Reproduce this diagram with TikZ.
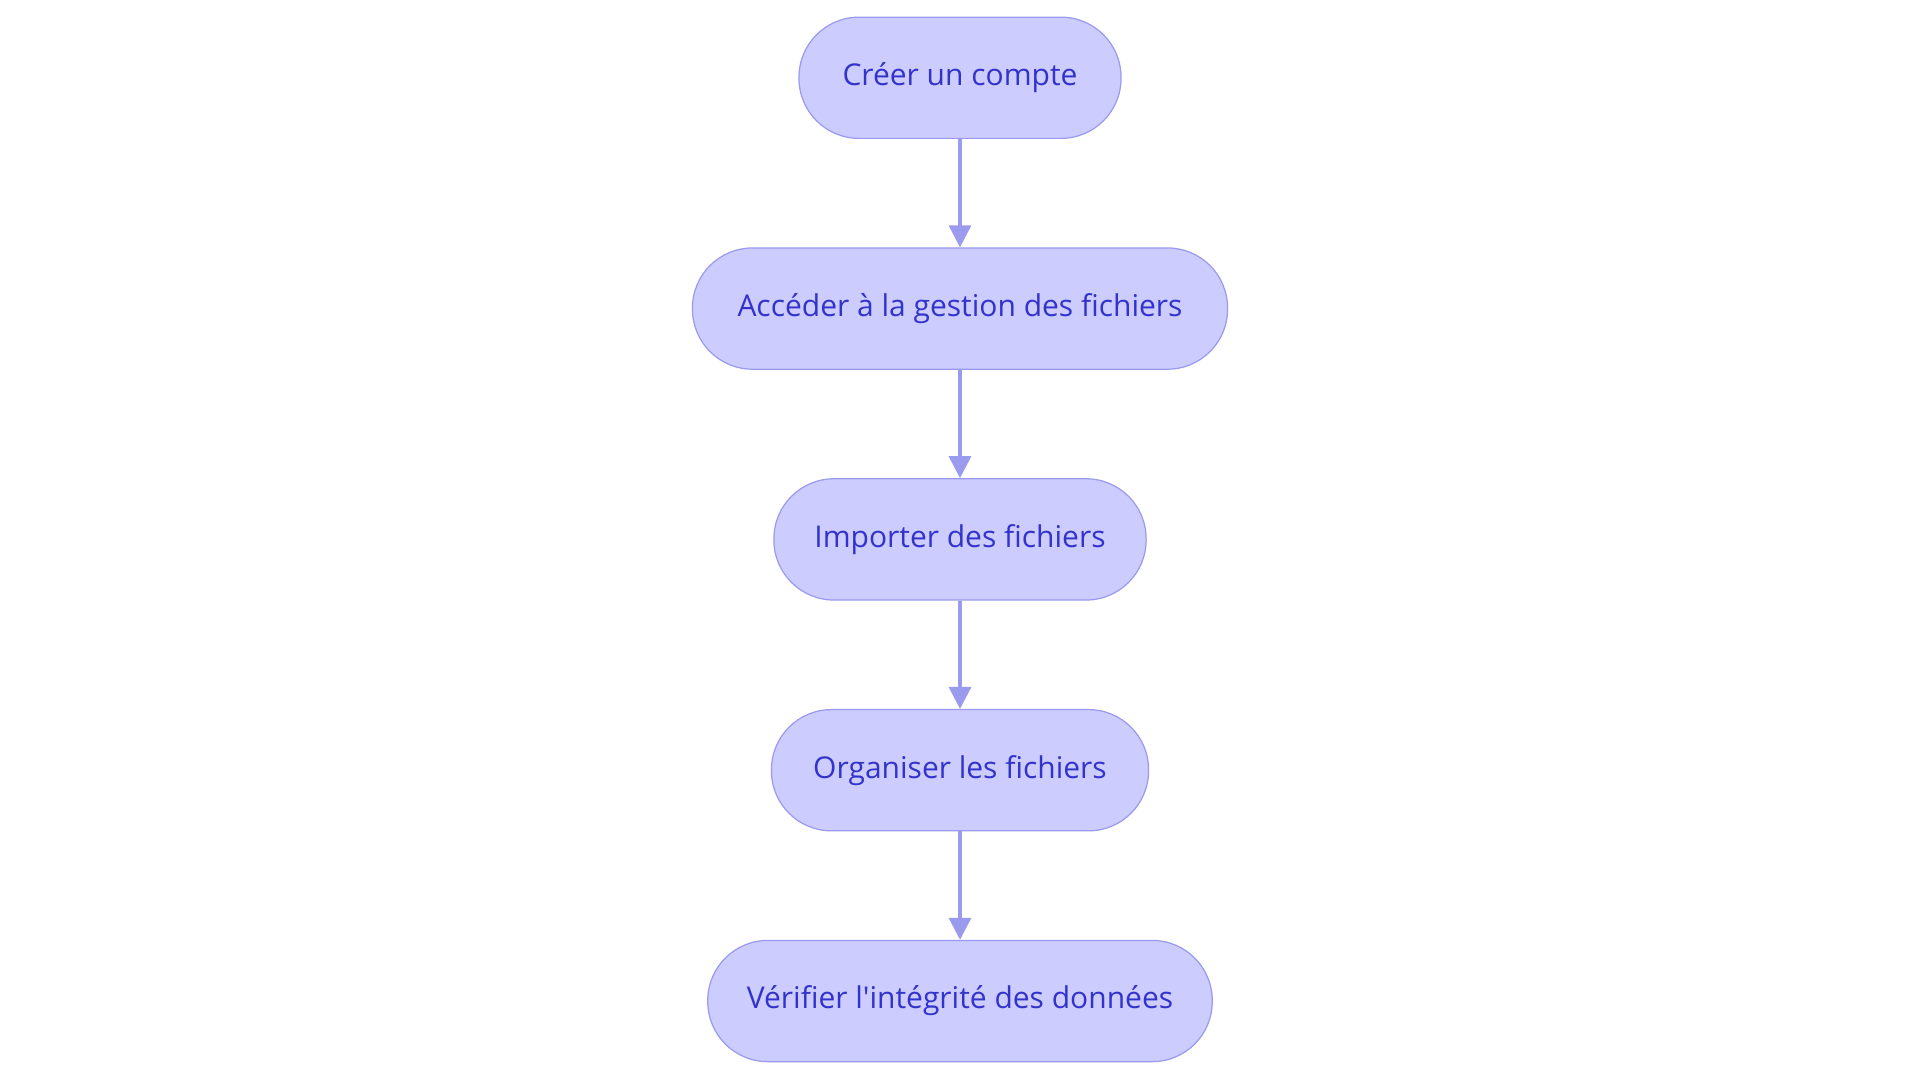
\documentclass[tikz,border=0pt]{standalone}
\usepackage{fontspec}
\setmainfont{Open Sans}
\usetikzlibrary{arrows.meta}
\definecolor{boxfill}{HTML}{CCCCFF}
\definecolor{boxline}{HTML}{9A9AEE}
\definecolor{boxtext}{HTML}{3333CC}
\tikzset{
  stepbox/.style={draw=boxline, fill=boxfill, line width=1pt, rounded corners=49pt,
    minimum height=99pt, inner sep=0pt, text=boxtext, font=\fontsize{24.5}{29}\selectfont},
  conn/.style={draw=boxline, line width=2.5pt, -{Triangle[length=18pt,width=18pt]}}
}
\begin{document}
\begin{tikzpicture}[x=1pt,y=-1pt]
\useasboundingbox (0,0) rectangle (1568,884);
\node[stepbox, minimum width=263pt] (a) at (784,63.5) {Créer un compte};
\node[stepbox, minimum width=437pt] (b) at (784,252) {Accéder à la gestion des fichiers};
\node[stepbox, minimum width=304pt] (c) at (784,440.5) {Importer des fichiers};
\node[stepbox, minimum width=308pt] (d) at (784,629) {Organiser les fichiers};
\node[stepbox, minimum width=412pt] (e) at (784,817.5) {Vérifier l\textquotesingle intégrité des données};
\draw[conn] (a) -- (b);
\draw[conn] (b) -- (c);
\draw[conn] (c) -- (d);
\draw[conn] (d) -- (e);
\end{tikzpicture}
\end{document}
